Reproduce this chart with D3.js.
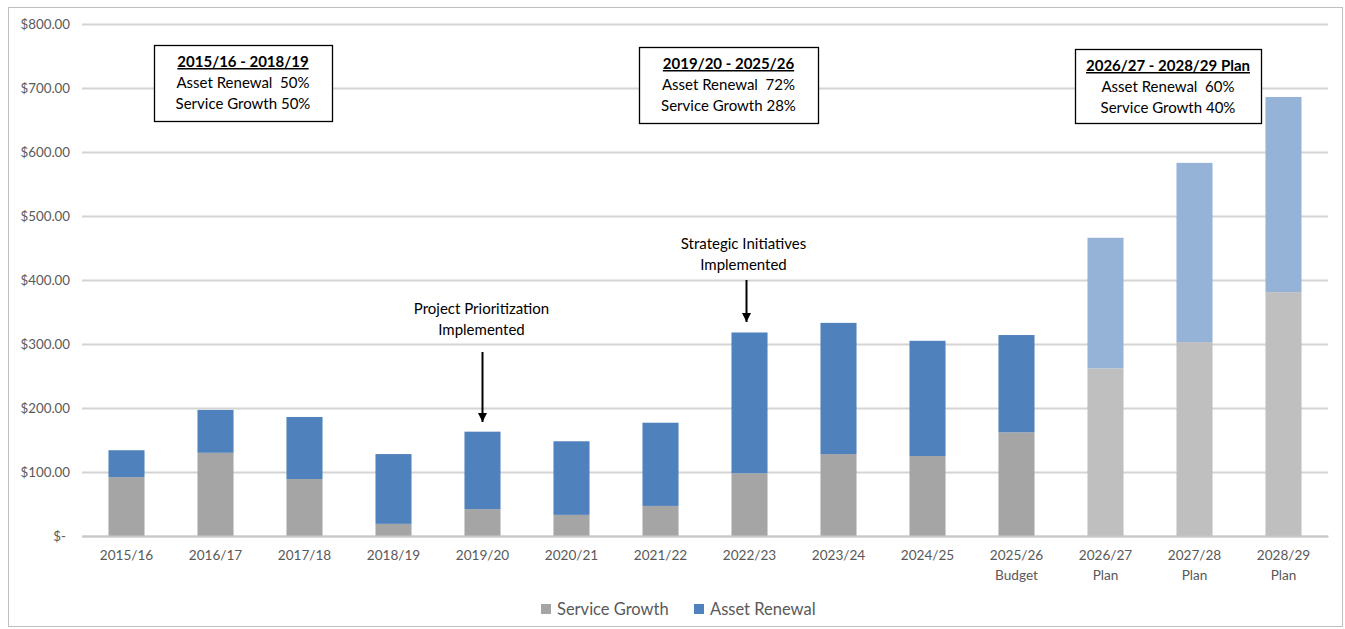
<!DOCTYPE html>
<html>
<head>
<meta charset="utf-8">
<script src="https://cdn.jsdelivr.net/npm/d3@7"></script>
<style>
  html, body { margin: 0; padding: 0; background: #fff; }
  svg { display: block; font-family: Lato, "Open Sans", sans-serif; }
</style>
</head>
<body>
<svg id="chart" width="1345" height="629"></svg>
<script>
// Capital spending by fiscal year, split into service growth and asset renewal ($ millions)
const categories = ["2015/16", "2016/17", "2017/18", "2018/19", "2019/20", "2020/21", "2021/22",
  "2022/23", "2023/24", "2024/25", "2025/26|Budget", "2026/27|Plan", "2027/28|Plan", "2028/29|Plan"];
const serviceGrowth = [92, 130, 89, 19, 42, 33, 47, 98, 128, 125, 162, 262, 303, 381];
const assetRenewal  = [42, 67, 97, 109, 121, 115, 130, 220, 205, 180, 152, 204, 280, 305];
const isPlan = [false, false, false, false, false, false, false, false, false, false, false, true, true, true];
const yTicks = [0, 100, 200, 300, 400, 500, 600, 700, 800];
const seriesNames = ["Service Growth", "Asset Renewal"];

const periodBoxes = [
  { title: "2015/16 - 2018/19", lines: ["Asset Renewal  50%", "Service Growth 50%"] },
  { title: "2019/20 - 2025/26", lines: ["Asset Renewal  72%", "Service Growth 28%"] },
  { title: "2026/27 - 2028/29 Plan", lines: ["Asset Renewal  60%", "Service Growth 40%"] }
];
const callouts = [
  { lines: ["Project Prioritization", "Implemented"], category: "2019/20" },
  { lines: ["Strategic Initiatives", "Implemented"], category: "2022/23" }
];

const colors = {
  growth: "#A5A5A5", renewal: "#4F81BD",
  growthPlan: "#BFBFBF", renewalPlan: "#95B3D7",
  grid: "#D4D4D4", text: "#595959"
};

const svg = d3.select("#chart");
const plot = { left: 82, right: 1328, top: 24, bottom: 536 };

// outer frame
svg.append("rect")
  .attr("x", 8.5).attr("y", 7.5).attr("width", 1334).attr("height", 619)
  .attr("fill", "none").attr("stroke", "#BFBFBF").attr("stroke-width", 1);

const x = d3.scaleBand().domain(categories).range([plot.left, plot.right]).paddingInner(0.595).paddingOuter(0.2975);
const y = d3.scaleLinear().domain([0, 800]).range([plot.bottom, plot.top]);

// y axis labels + gridlines
const yAxis = d3.axisLeft(y).tickValues(yTicks)
  .tickFormat(d => d === 0 ? "$-" : d3.format("$,.2f")(d))
  .tickSize(-(plot.right - plot.left)).tickPadding(12);
const gy = svg.append("g").attr("transform", `translate(${plot.left},0)`).call(yAxis);
gy.select(".domain").remove();
gy.selectAll(".tick line").attr("stroke", colors.grid).attr("stroke-width", 2);
gy.selectAll(".tick text").attr("fill", colors.text).attr("font-size", 13.3)
  .attr("font-family", "Lato, sans-serif")
  .attr("dx", d => d === 0 ? -4 : 0);

// stacked bars
const rows = categories.map((c, i) => ({ c, g: serviceGrowth[i], r: assetRenewal[i], plan: isPlan[i] }));
const bars = svg.append("g");
bars.selectAll(".g").data(rows).join("rect")
  .attr("x", d => x(d.c)).attr("width", x.bandwidth())
  .attr("y", d => y(d.g)).attr("height", d => y(0) - y(d.g))
  .attr("fill", d => d.plan ? colors.growthPlan : colors.growth);
bars.selectAll(".r").data(rows).join("rect")
  .attr("x", d => x(d.c)).attr("width", x.bandwidth())
  .attr("y", d => y(d.g + d.r)).attr("height", d => y(d.g) - y(d.g + d.r))
  .attr("fill", d => d.plan ? colors.renewalPlan : colors.renewal);

// x axis
const xAxis = d3.axisBottom(x).tickSize(0).tickFormat("");
const gx = svg.append("g").attr("transform", `translate(0,${plot.bottom})`).call(xAxis);
gx.select(".domain").attr("stroke", "#C8C8C8").attr("stroke-width", 2);
gx.selectAll(".tick").each(function (d) {
  const parts = d.split("|");
  const t = d3.select(this).append("text")
    .attr("fill", colors.text).attr("font-size", 13.6).attr("text-anchor", "middle")
    .attr("font-family", "Lato, sans-serif");
  parts.forEach((p, i) => t.append("tspan").attr("x", 0).attr("y", 24 + i * 20).text(p));
});

// period summary boxes
const boxGeom = [
  { x0: 154, x1: 332, y0: 45, y1: 121 },
  { x0: 639, x1: 818, y0: 47, y1: 123 },
  { x0: 1075, x1: 1261, y0: 49, y1: 123 }
];
periodBoxes.forEach((b, i) => {
  const g = boxGeom[i];
  const grp = svg.append("g");
  grp.append("rect").attr("x", g.x0 + 0.5).attr("y", g.y0 + 0.5)
    .attr("width", g.x1 - g.x0).attr("height", g.y1 - g.y0)
    .attr("fill", "#fff").attr("stroke", "#000").attr("stroke-width", 1.3);
  const cx = (g.x0 + g.x1) / 2;
  grp.append("text").attr("x", cx).attr("y", g.y0 + 22)
    .attr("text-anchor", "middle").attr("font-size", 15).attr("font-weight", "bold")
    .attr("text-decoration", "underline").attr("fill", "#000").text(b.title);
  b.lines.forEach((l, j) => {
    grp.append("text").attr("x", cx).attr("y", g.y0 + 43 + j * 20.5)
      .attr("text-anchor", "middle").attr("font-size", 15).attr("fill", "#000")
      .style("white-space", "pre").text(l);
  });
});

// callout arrows
const defs = svg.append("defs");
defs.append("marker").attr("id", "arrowhead").attr("viewBox", "0 0 10 10")
  .attr("refX", 10).attr("refY", 5).attr("markerWidth", 4.5).attr("markerHeight", 4.5)
  .attr("markerUnits", "strokeWidth").attr("orient", "auto")
  .append("path").attr("d", "M0,0 L10,5 L0,10 Z").attr("fill", "#000");

const calloutGeom = [
  { textY: 314, lineTop: 352, tip: 422, arrowDx: 0, textDx: -1 },
  { textY: 249, lineTop: 280, tip: 322, arrowDx: -3, textDx: -6 }
];
callouts.forEach((c, i) => {
  const g = calloutGeom[i];
  const mid = x(c.category) + x.bandwidth() / 2;
  const ax = mid + g.arrowDx;
  c.lines.forEach((l, j) => {
    svg.append("text").attr("x", mid + g.textDx).attr("y", g.textY + j * 20.5)
      .attr("text-anchor", "middle").attr("font-size", 15).attr("fill", "#000").text(l);
  });
  svg.append("line").attr("x1", ax).attr("x2", ax).attr("y1", g.lineTop).attr("y2", g.tip)
    .attr("stroke", "#000").attr("stroke-width", 2).attr("marker-end", "url(#arrowhead)");
});

// legend
const legendItems = [
  { name: seriesNames[0], color: colors.growth, x: 541 },
  { name: seriesNames[1], color: colors.renewal, x: 694 }
];
const lg = svg.append("g");
legendItems.forEach(it => {
  lg.append("rect").attr("x", it.x).attr("y", 604).attr("width", 10).attr("height", 10).attr("fill", it.color);
  lg.append("text").attr("x", it.x + 16).attr("y", 615).attr("font-size", 16.5)
    .attr("fill", colors.text).text(it.name);
});
</script>
</body>
</html>
